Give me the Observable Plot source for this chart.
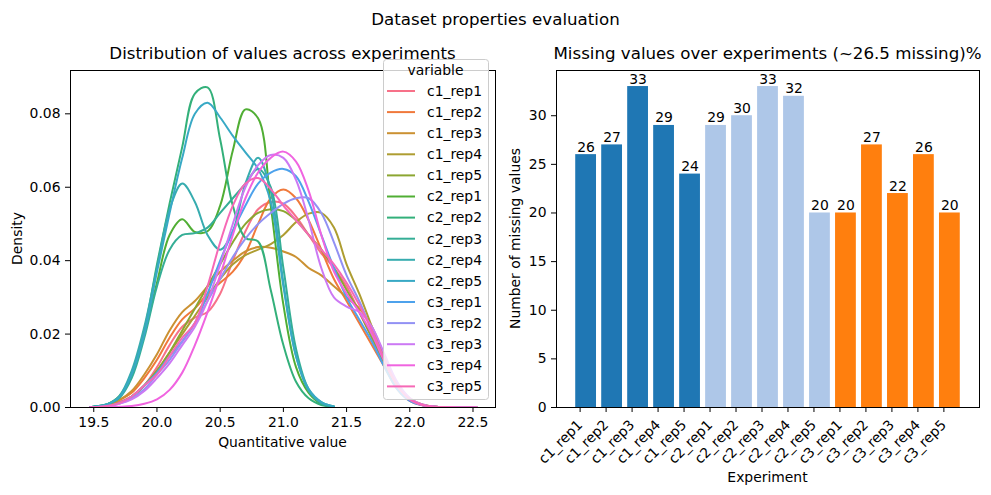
<!DOCTYPE html>
<html>
<head>
<meta charset="utf-8">
<script src="https://cdn.jsdelivr.net/npm/d3@7"></script>
<script src="https://cdn.jsdelivr.net/npm/@observablehq/plot@0.6"></script>
<style>
  body { margin: 0; background: #fff; font-family: "DejaVu Sans", sans-serif; }
  #page { position: relative; width: 991px; height: 495px; overflow: hidden; background: #fff; }
  #page > svg { position: absolute; }
</style>
</head>
<body>
<div id="page"></div>
<script>
// ---- Experiments and their colours ----
const experiments = ["c1_rep1","c1_rep2","c1_rep3","c1_rep4","c1_rep5",
                     "c2_rep1","c2_rep2","c2_rep3","c2_rep4","c2_rep5",
                     "c3_rep1","c3_rep2","c3_rep3","c3_rep4","c3_rep5"];
const seriesColors = ["#f77189","#f0793b","#cb9132","#ae9d31","#8ca631",
                      "#50ae34","#33b07a","#35ae96","#37acaf","#38a9c5",
                      "#4da2ec","#9291f4","#cc79f4","#f064e0","#f669b6"];

// ---- Density estimates, sampled on a common grid of quantitative values ----
const gridX = [19.47, 19.5, 19.6, 19.7, 19.8, 19.9, 20.0, 20.1, 20.2, 20.3, 20.4,
               20.5, 20.6, 20.7, 20.8, 20.9, 21.0, 21.1, 21.2, 21.3, 21.4,
               21.5, 21.6, 21.7, 21.8, 21.9, 22.0, 22.1, 22.2, 22.3, 22.4, 22.5, 22.53];

const c1_rep1 = [0, 0.0001, 0.0005, 0.0015, 0.003, 0.006, 0.011, 0.017, 0.022, 0.0245, 0.026, 0.031, 0.040, 0.048, 0.054, 0.056, 0.0555, 0.052, 0.047, 0.042, 0.038, 0.033, 0.026, 0.019, 0.012, 0.0055, 0.002, 0.0007, 0.0002, 0.0001, 0, 0, 0];
const c1_rep2 = [0, 0.0001, 0.0006, 0.002, 0.004, 0.008, 0.013, 0.019, 0.024, 0.027, 0.031, 0.034, 0.037, 0.042, 0.050, 0.057, 0.0594, 0.057, 0.051, 0.043, 0.035, 0.029, 0.023, 0.017, 0.011, 0.005, 0.0018, 0.0006, 0.0002, 0.0001, 0, 0, 0];
const c1_rep3 = [0, 0.0001, 0.0006, 0.002, 0.0045, 0.009, 0.0145, 0.021, 0.026, 0.029, 0.033, 0.037, 0.040, 0.0425, 0.0437, 0.0435, 0.0425, 0.041, 0.038, 0.036, 0.033, 0.030, 0.027, 0.022, 0.014, 0.0065, 0.0025, 0.0008, 0.0002, 0.0001, 0, 0, 0];
const c1_rep4 = [0, 0.0001, 0.0004, 0.0012, 0.003, 0.006, 0.010, 0.015, 0.020, 0.025, 0.030, 0.035, 0.039, 0.0415, 0.043, 0.0445, 0.047, 0.0505, 0.0528, 0.053, 0.049, 0.039, 0.031, 0.022, 0.013, 0.006, 0.0022, 0.0007, 0.0002, 0, 0, 0, 0];
const c1_rep5 = [0, 0.0001, 0.0004, 0.0012, 0.003, 0.006, 0.010, 0.015, 0.021, 0.027, 0.033, 0.039, 0.045, 0.050, 0.053, 0.054, 0.0535, 0.051, 0.047, 0.043, 0.038, 0.032, 0.026, 0.019, 0.012, 0.0055, 0.002, 0.0007, 0.0002, 0.0001, 0, 0, 0];
const c2_rep1 = [0, 0.0002, 0.0008, 0.003, 0.009, 0.020, 0.034, 0.047, 0.0513, 0.0478, 0.048, 0.055, 0.070, 0.0812, 0.0788, 0.055, 0.028, 0.011, 0.004, 0.001, 0.0002, null, null, null, null, null, null, null, null, null, null, null, null];
const c2_rep2 = [0, 0.0002, 0.0008, 0.0027, 0.009, 0.021, 0.039, 0.0556, 0.071, 0.0855, 0.0872, 0.073, 0.055, 0.0462, 0.0452, 0.032, 0.017, 0.007, 0.0025, 0.0007, 0.0002, null, null, null, null, null, null, null, null, null, null, null, null];
const c2_rep3 = [0, 0.0002, 0.0008, 0.0025, 0.008, 0.019, 0.033, 0.043, 0.047, 0.0475, 0.049, 0.053, 0.057, 0.061, 0.065, 0.060, 0.038, 0.016, 0.005, 0.0015, 0.0003, null, null, null, null, null, null, null, null, null, null, null, null];
const c2_rep4 = [0, 0.0002, 0.0008, 0.003, 0.010, 0.022, 0.038, 0.054, 0.061, 0.056, 0.047, 0.043, 0.048, 0.061, 0.068, 0.059, 0.034, 0.014, 0.0045, 0.0012, 0.0002, null, null, null, null, null, null, null, null, null, null, null, null];
const c2_rep5 = [0, 0.0002, 0.0008, 0.0027, 0.009, 0.020, 0.037, 0.053, 0.068, 0.080, 0.083, 0.079, 0.074, 0.0695, 0.065, 0.056, 0.033, 0.014, 0.005, 0.0015, 0.0003, null, null, null, null, null, null, null, null, null, null, null, null];
const c3_rep1 = [0, 0.0001, 0.0004, 0.0012, 0.003, 0.006, 0.0095, 0.014, 0.018, 0.023, 0.031, 0.040, 0.048, 0.055, 0.061, 0.064, 0.065, 0.063, 0.056, 0.047, 0.038, 0.030, 0.024, 0.018, 0.011, 0.005, 0.0018, 0.0006, 0.0002, 0, 0, 0, 0];
const c3_rep2 = [0, 0.0001, 0.0003, 0.001, 0.0025, 0.005, 0.009, 0.013, 0.018, 0.023, 0.029, 0.035, 0.041, 0.046, 0.050, 0.053, 0.0555, 0.057, 0.057, 0.053, 0.045, 0.036, 0.029, 0.021, 0.013, 0.006, 0.0022, 0.0007, 0.0002, 0.0001, 0, 0, 0];
const c3_rep3 = [0, 0.0001, 0.0003, 0.001, 0.0022, 0.0045, 0.008, 0.012, 0.017, 0.022, 0.029, 0.039, 0.050, 0.060, 0.066, 0.0688, 0.068, 0.062, 0.051, 0.038, 0.030, 0.0275, 0.026, 0.022, 0.0145, 0.007, 0.0026, 0.0008, 0.0002, 0.0001, 0, 0, 0];
const c3_rep4 = [0, 0, 0.0001, 0.0002, 0.0004, 0.001, 0.0022, 0.0048, 0.0095, 0.017, 0.026, 0.036, 0.047, 0.057, 0.064, 0.068, 0.0697, 0.067, 0.059, 0.047, 0.037, 0.031, 0.026, 0.020, 0.0125, 0.006, 0.0022, 0.0007, 0.0002, 0.0001, 0, 0, 0];
const c3_rep5 = [0, 0.0001, 0.0004, 0.0012, 0.003, 0.006, 0.009, 0.014, 0.019, 0.023, 0.033, 0.045, 0.055, 0.061, 0.0625, 0.0595, 0.055, 0.051, 0.047, 0.043, 0.039, 0.034, 0.028, 0.021, 0.013, 0.006, 0.0022, 0.0007, 0.0002, 0.0001, 0, 0, 0];

const densitySeries = [c1_rep1, c1_rep2, c1_rep3, c1_rep4, c1_rep5,
                       c2_rep1, c2_rep2, c2_rep3, c2_rep4, c2_rep5,
                       c3_rep1, c3_rep2, c3_rep3, c3_rep4, c3_rep5];

const densityTicksX = [19.5, 20.0, 20.5, 21.0, 21.5, 22.0, 22.5];
const densityTicksY = [0, 0.02, 0.04, 0.06, 0.08];

// ---- Missing values per experiment ----
const missingCounts = [26, 27, 33, 29, 24, 29, 30, 33, 32, 20, 20, 27, 22, 26, 20];
const conditionKeys = ["c1", "c2", "c3"];
const conditionColors = ["#1f77b4", "#aec7e8", "#ff7f0e"];
const missingTicksY = [0, 5, 10, 15, 20, 25, 30];

// ---- Tables built from the arrays above ----
const kdeRows = [];
experiments.forEach((name, i) => {
  densitySeries[i].forEach((d, j) => {
    if (d != null) kdeRows.push({variable: name, value: gridX[j], density: d});
  });
});
const missingRows = experiments.map((name, i) => ({
  experiment: name, condition: name.slice(0, 2), missing: missingCounts[i]
}));

const FONT = "DejaVu Sans, sans-serif";
const page = document.getElementById("page");

// ---- Left panel: density curves ----
const leftPlot = Plot.plot({
  width: 510, height: 495,
  marginLeft: 70, marginRight: 15, marginTop: 70, marginBottom: 88,
  style: {fontFamily: FONT, fontSize: "13.9px", color: "#000", background: "transparent", overflow: "visible"},
  x: {domain: [19.316, 22.678]},
  y: {domain: [0, 0.0918]},
  color: {domain: experiments, range: seriesColors},
  marks: [
    Plot.line(kdeRows, {x: "value", y: "density", z: "variable", stroke: "variable",
                        strokeWidth: 2, curve: "catmull-rom", clip: true}),
    Plot.frame({stroke: "#000", strokeWidth: 1}),
    Plot.axisX({ticks: densityTicksX, tickFormat: d3.format(".1f"), tickSize: 5, tickPadding: 5,
                label: null, fontSize: 13.9}),
    Plot.axisY({ticks: densityTicksY, tickFormat: d3.format(".2f"), tickSize: 5, tickPadding: 5,
                label: null, fontSize: 13.9})
  ]
});
leftPlot.style.left = "0px";
leftPlot.style.top = "0px";
page.appendChild(leftPlot);

// ---- Right panel: missing value counts ----
const rightPlot = Plot.plot({
  width: 496, height: 495,
  marginLeft: 61, marginRight: 12, marginTop: 70, marginBottom: 88,
  style: {fontFamily: FONT, fontSize: "13.9px", color: "#000", background: "transparent", overflow: "visible"},
  x: {type: "band", domain: experiments, paddingInner: 0.2, paddingOuter: 0.74, align: 0.5, round: false},
  y: {domain: [0, 34.65]},
  color: {domain: conditionKeys, range: conditionColors},
  marks: [
    Plot.barY(missingRows, {x: "experiment", y: "missing", fill: "condition", inset: 0}),
    Plot.text(missingRows, {x: "experiment", y: "missing", text: d => String(d.missing),
                            lineAnchor: "bottom", dy: -3, fontSize: 13.9, fill: "#000"}),
    Plot.frame({stroke: "#000", strokeWidth: 1}),
    Plot.axisX({tickRotate: -45, tickSize: 5, tickPadding: 10, dx: -6, label: null, fontSize: 13.9}),
    Plot.axisY({ticks: missingTicksY, tickFormat: d3.format("d"), tickSize: 5, tickPadding: 5,
                label: null, fontSize: 13.9})
  ]
});
rightPlot.style.left = "495px";
rightPlot.style.top = "0px";
page.appendChild(rightPlot);

// ---- Titles, axis labels and legend ----
const overlay = d3.create("svg")
  .attr("width", 991).attr("height", 495)
  .style("left", "0px").style("top", "0px")
  .attr("font-family", FONT)
  .attr("fill", "#000");

function label(x, y, text, size, rotate) {
  const t = overlay.append("text")
    .attr("text-anchor", "middle")
    .attr("font-size", size)
    .text(text);
  if (rotate) t.attr("transform", `translate(${x},${y}) rotate(-90)`);
  else t.attr("x", x).attr("y", y);
}
label(495.5, 25, "Dataset properties evaluation", 16.67);
label(282.5, 59, "Distribution of values across experiments", 16.67);
label(767.5, 59, "Missing values over experiments (~26.5 missing)%", 16.67);
label(282.5, 447, "Quantitative value", 13.9);
label(767.5, 482, "Experiment", 13.9);
label(22, 238.5, "Density", 13.9, true);
label(520, 238.5, "Number of missing values", 13.9, true);

// legend for the density curves
const legend = overlay.append("g");
legend.append("rect")
  .attr("x", 383.5).attr("y", 59.5).attr("width", 105).attr("height", 340).attr("rx", 3)
  .attr("fill", "#fff").attr("fill-opacity", 0.8)
  .attr("stroke", "#cccccc").attr("stroke-width", 1);
legend.append("text")
  .attr("x", 435.5).attr("y", 70).attr("dy", "0.35em")
  .attr("text-anchor", "middle").attr("font-size", 13.9)
  .text("variable");
experiments.forEach((name, i) => {
  const y = 91 + i * 21.1;
  legend.append("line")
    .attr("x1", 387).attr("x2", 415).attr("y1", y).attr("y2", y)
    .attr("stroke", seriesColors[i]).attr("stroke-width", 2);
  legend.append("text")
    .attr("x", 427).attr("y", y).attr("dy", "0.35em")
    .attr("font-size", 13.9)
    .text(name);
});

page.appendChild(overlay.node());
</script>
</body>
</html>
